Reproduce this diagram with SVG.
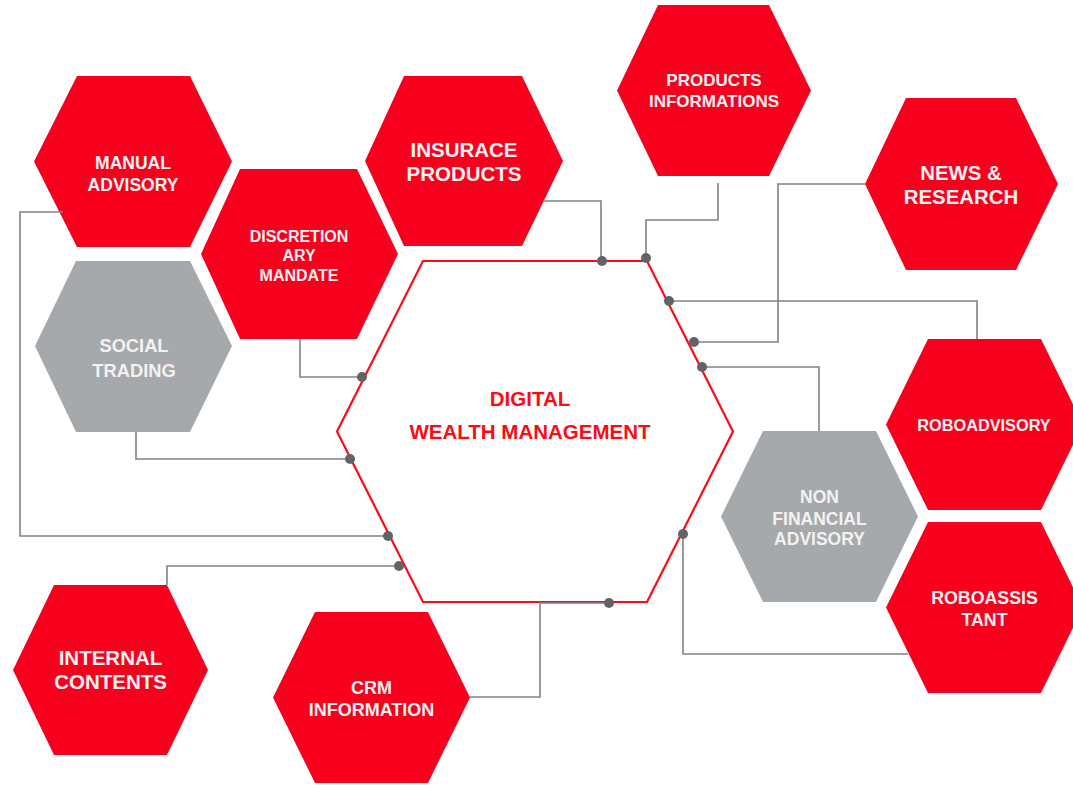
<svg xmlns="http://www.w3.org/2000/svg" width="1073" height="785" viewBox="0 0 1073 785">
<style>
.red{fill:#f7001e}
.gray{fill:#a6a9ab}
.t{font-family:"Liberation Sans",Arial,sans-serif;font-weight:bold;fill:#f4f1f1;text-anchor:middle}
.c{fill:none;stroke:#808387;stroke-width:1.6}
.d{fill:#606367}
.ct{font-family:"Liberation Sans",Arial,sans-serif;font-weight:bold;fill:#ff0a14;text-anchor:middle;font-size:20.5px}
</style>
<rect width="1073" height="785" fill="#ffffff"/>
<g id="manual-advisory"><polygon class="red" points="34,161.5 77,76 190,76 232,161.5 190,247 77,247"/><text class="t" font-size="17.5" x="133" y="169">MANUAL</text><text class="t" font-size="17.5" x="133" y="191">ADVISORY</text></g>
<g id="discretionary-mandate"><polygon class="red" points="201,254 240,169 357,169 398,254 357,339 240,339"/><text class="t" font-size="16" x="299" y="242">DISCRETION</text><text class="t" font-size="16" x="299" y="261">ARY</text><text class="t" font-size="16" x="299" y="281">MANDATE</text></g>
<g id="social-trading"><polygon class="gray" points="35,346 76,261 190,261 232,346 190,432 76,432"/><text class="t" font-size="18.3" x="134" y="352">SOCIAL</text><text class="t" font-size="18.3" x="134" y="377">TRADING</text></g>
<g id="insurace-products"><polygon class="red" points="365,161 404,76 522,76 563,161 522,246 404,246"/><text class="t" font-size="20.5" x="464" y="157">INSURACE</text><text class="t" font-size="20.5" x="464" y="181">PRODUCTS</text></g>
<g id="products-informations"><polygon class="red" points="617,90.5 658,5 769,5 811,90.5 769,176 658,176"/><text class="t" font-size="17" x="714" y="86">PRODUCTS</text><text class="t" font-size="17" x="714" y="107">INFORMATIONS</text></g>
<g id="news-research"><polygon class="red" points="865,184 906,98 1016,98 1058,184 1016,270 906,270"/><text class="t" font-size="20.4" x="961" y="180">NEWS &amp;</text><text class="t" font-size="20.4" x="961" y="204">RESEARCH</text></g>
<g id="roboadvisory"><polygon class="red" points="886,424.5 928,339 1041,339 1083,424.5 1041,510 928,510"/><text class="t" font-size="16.3" x="984" y="431">ROBOADVISORY</text></g>
<g id="roboassistant"><polygon class="red" points="886,607.5 928,522 1041,522 1083,607.5 1041,693 928,693"/><text class="t" font-size="17.8" x="984.5" y="604">ROBOASSIS</text><text class="t" font-size="17.8" x="984.5" y="626">TANT</text></g>
<g id="non-financial-advisory"><polygon class="gray" points="721,516.5 763,431 876,431 918,516.5 876,602 763,602"/><text class="t" font-size="17.5" x="819.5" y="503">NON</text><text class="t" font-size="17.5" x="819.5" y="525">FINANCIAL</text><text class="t" font-size="17.5" x="819.5" y="545">ADVISORY</text></g>
<g id="internal-contents"><polygon class="red" points="13,670 54,585 167,585 208,670 167,755 54,755"/><text class="t" font-size="20.5" x="110.5" y="665">INTERNAL</text><text class="t" font-size="20.5" x="110.5" y="689">CONTENTS</text></g>
<g id="crm-information"><polygon class="red" points="273,697.5 315,612 428,612 470,697.5 428,783 315,783"/><text class="t" font-size="18" x="371.5" y="694">CRM</text><text class="t" font-size="18" x="371.5" y="716">INFORMATION</text></g>
<g id="digital-wealth-management"><polygon points="337,431.5 423,261 647,261 733,431.5 647,602 423,602" fill="#ffffff" stroke="#ff0a14" stroke-width="2.2"/><text class="ct" x="530" y="406">DIGITAL</text><text class="ct" x="530" y="439">WEALTH MANAGEMENT</text></g>
<g id="connectors">
<polyline class="c" points="543,201 601,201 601,261"/>
<polyline class="c" points="718,183 718,220 646,220 646,258"/>
<polyline class="c" points="865,184 778,184 778,342 694,342"/>
<polyline class="c" points="669,301 977,301 977,339"/>
<polyline class="c" points="702,367 819,367 819,431"/>
<polyline class="c" points="683,534 683,654 908,654"/>
<polyline class="c" points="609,603 540,603 540,697 470,697"/>
<polyline class="c" points="399,566 167,566 167,585"/>
<polyline class="c" points="388,536 20,536 20,212 63,212"/>
<polyline class="c" points="350,459 136,459 136,432"/>
<polyline class="c" points="362,377 300,377 300,339"/>
<circle class="d" cx="602" cy="261" r="5"/>
<circle class="d" cx="646" cy="258" r="5"/>
<circle class="d" cx="669" cy="301" r="5"/>
<circle class="d" cx="694" cy="342" r="5"/>
<circle class="d" cx="702" cy="367" r="5"/>
<circle class="d" cx="362" cy="377" r="5"/>
<circle class="d" cx="350" cy="459" r="5"/>
<circle class="d" cx="388" cy="536" r="5"/>
<circle class="d" cx="399" cy="566" r="5"/>
<circle class="d" cx="609" cy="603" r="5"/>
<circle class="d" cx="683" cy="534" r="5"/>
</g>
</svg>
